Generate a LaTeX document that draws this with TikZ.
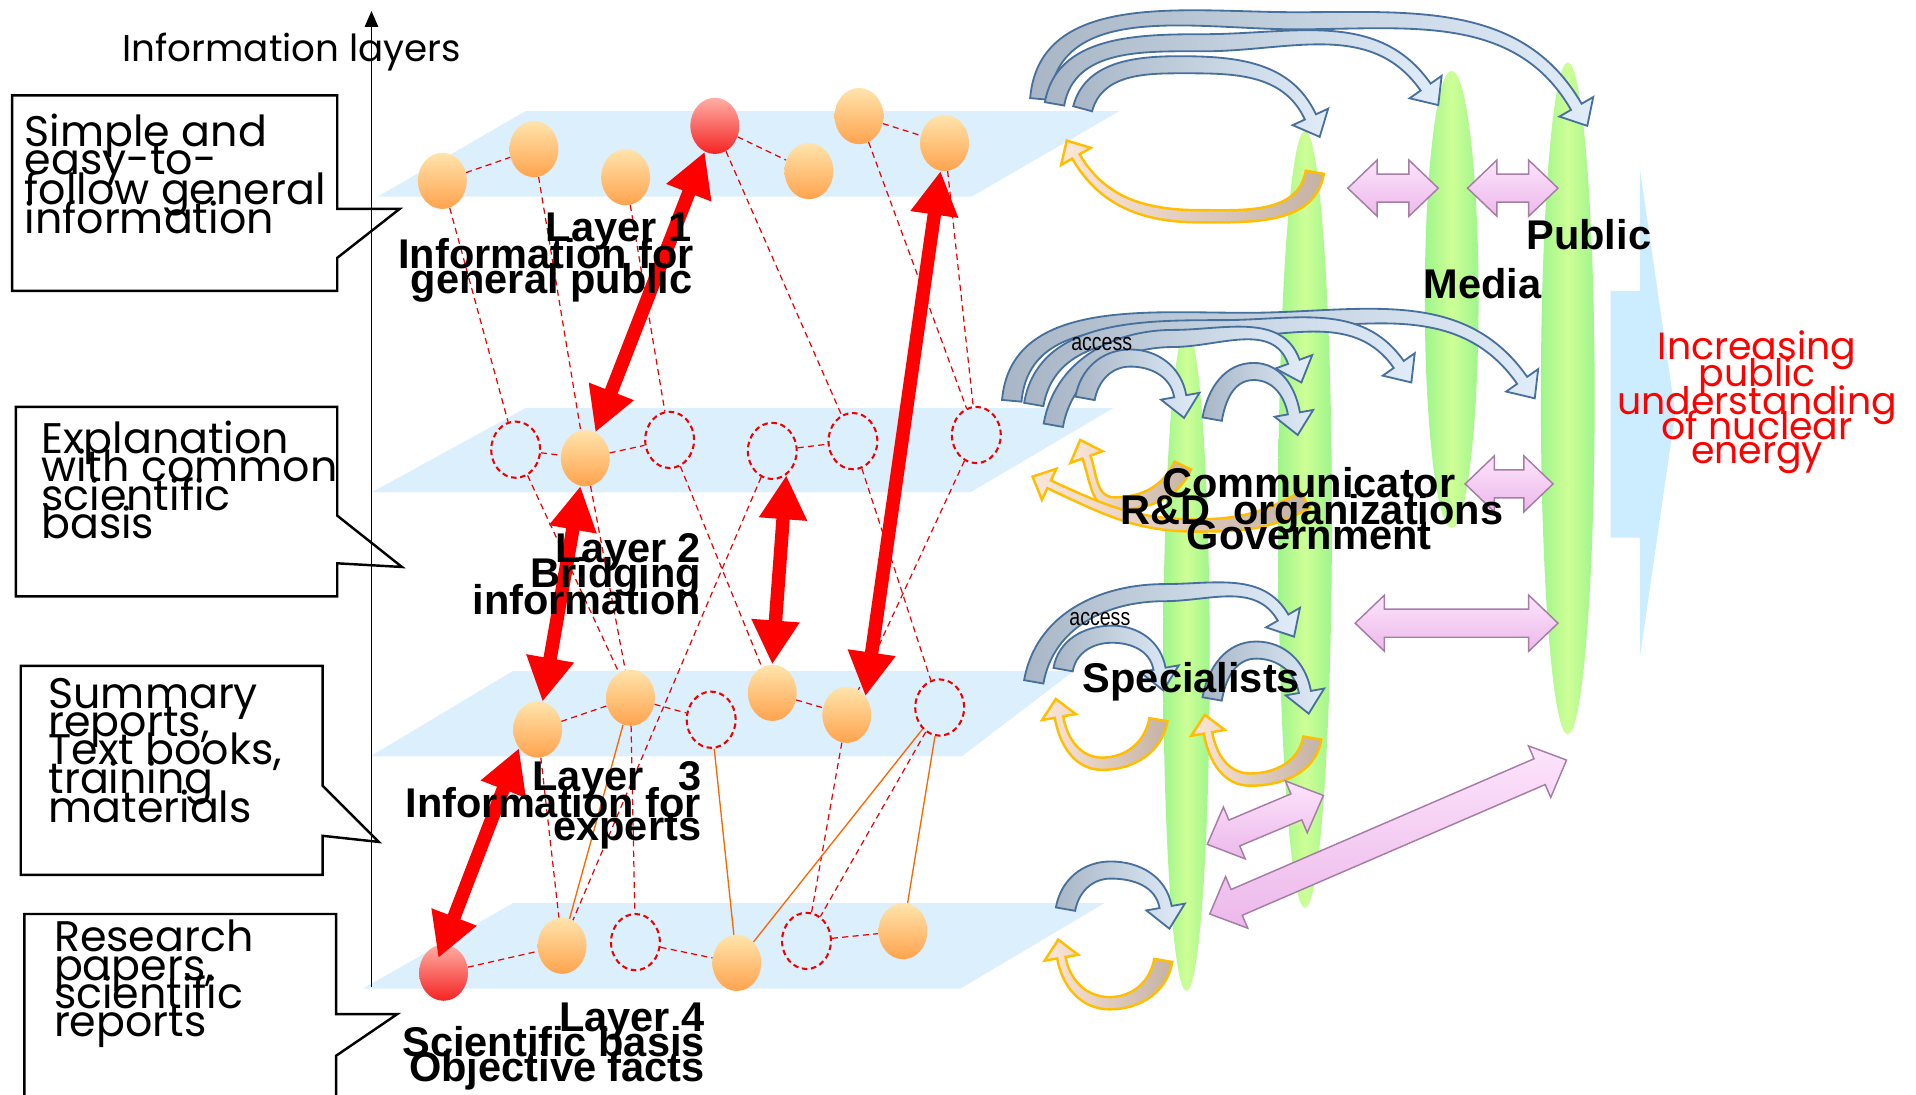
\documentclass[tikz,border=0pt]{standalone}
\usepackage{fontspec}
\setmainfont{Liberation Sans}
\newfontfamily\gothic{Poppins}
\newfontfamily\narrowf[FakeStretch=0.8]{Liberation Sans}
\usetikzlibrary{arrows.meta,shapes.geometric,calc}
\pgfdeclarelayer{bg}
\pgfsetlayers{bg,main}

\definecolor{planeC}{RGB}{220,239,253}
\definecolor{sphTop}{RGB}{255,228,172}
\definecolor{sphBot}{RGB}{255,163,77}
\definecolor{redTop}{RGB}{255,175,165}
\definecolor{redBot}{RGB}{245,35,35}
\definecolor{dashRed}{RGB}{240,0,0}
\definecolor{solidOr}{RGB}{255,102,0}
\definecolor{arrowRed}{RGB}{255,0,0}
\definecolor{gEdge}{RGB}{158,245,140}
\definecolor{gMid}{RGB}{206,255,150}
\definecolor{blueLine}{RGB}{72,112,156}
\definecolor{blueTail}{RGB}{168,182,198}
\definecolor{blueHead}{RGB}{224,236,248}
\definecolor{orLine}{RGB}{255,190,0}
\definecolor{orTail}{RGB}{196,178,165}
\definecolor{orHead}{RGB}{252,230,216}
\definecolor{pinkTop}{RGB}{253,228,252}
\definecolor{pinkBot}{RGB}{236,184,234}
\definecolor{pinkLine}{RGB}{165,125,165}
\definecolor{bigBlue}{RGB}{204,237,255}
\definecolor{redText}{RGB}{255,0,0}

\tikzset{
  plane/.style={fill=planeC},
  sph/.style={ellipse, minimum width=40pt, minimum height=46pt, inner sep=0pt, top color=sphTop, bottom color=sphBot},
  rsph/.style={ellipse, minimum width=40pt, minimum height=46pt, inner sep=0pt, top color=redTop, bottom color=redBot},
  dcirc/.style={ellipse, minimum width=40pt, minimum height=46pt, inner sep=0pt, draw=dashRed, line width=1.7pt, dash pattern=on 4.5pt off 3pt},
  dline/.style={draw=dashRed, line width=1pt, dash pattern=on 5pt off 3.5pt},
  oline/.style={draw=solidOr, line width=1.1pt},
  bigred/.style={draw=arrowRed, line width=11pt, {Triangle[length=36pt,width=37pt]}-{Triangle[length=36pt,width=37pt]}},
  callout/.style={draw=black, line width=2pt, fill=white, line join=miter},
  ctext/.style={anchor=base west, inner sep=0pt, font=\gothic\fontsize{35}{35}\selectfont},
  lbl/.style={anchor=base east, inner sep=0pt, font=\bfseries\fontsize{34}{34}\selectfont},
  rlbl/.style={anchor=base west, inner sep=0pt, font=\bfseries\fontsize{34}{34}\selectfont},
  redtxt/.style={anchor=base, inner sep=0pt, text=redText, font=\gothic\fontsize{31}{31}\selectfont},
  acc/.style={anchor=base west, inner sep=0pt, font=\narrowf\fontsize{20}{20}\selectfont},
  barc/.style={draw=blueLine, line width=1.5pt, left color=blueTail, right color=blueHead, line join=miter},
  oarc/.style={draw=orLine, line width=2pt, left color=orHead, right color=orTail, line join=miter},
  pinkarr/.style={draw=pinkLine, line width=1.2pt, top color=pinkTop, bottom color=pinkBot, line join=miter},
  greenell/.style={left color=gEdge, right color=gEdge, middle color=gMid},
}

% tapered curved arrow: #1 style, #2 tail, #3 tail direction, #4 apex, #5 direction at apex, #6 in-angle at head, #7 head tip
\newcommand\taparrow[7]{%
  \pgfmathsetmacro\aO{#3+90}\pgfmathsetmacro\aI{#3-90}%
  \pgfmathsetmacro\cO{#5+90}\pgfmathsetmacro\cI{#5-90}\pgfmathsetmacro\cR{#5+180}%
  \pgfmathsetmacro\bO{#6-90}\pgfmathsetmacro\bI{#6+90}%
  \coordinate (tT) at (#2);
  \coordinate (tM) at (#4);
  \coordinate (tH) at (#7);
  \coordinate (tB) at ($(tH)+(#6:\hL)$);
  \path[#1] ($(tT)+(\aO:\wA)$) to[out=#3,in=\cR] ($(tM)+(\cO:\wB)$) to[out=#5,in=#6] ($(tB)+(\bO:\wC)$)
     -- ($(tB)+(\bO:\hW)$) -- (tH) -- ($(tB)+(\bI:\hW)$) -- ($(tB)+(\bI:\wC)$)
     to[out=#6,in=#5] ($(tM)+(\cI:\wB)$) to[out=\cR,in=#3] ($(tT)+(\aI:\wA)$) -- cycle;
}
\newcommand\pinkarrow[2]{%
  \coordinate (pa) at (#1);
  \coordinate (pb) at (#2);
  \coordinate (qa) at ($(pa)!24pt!(pb)$);
  \coordinate (qb) at ($(pb)!24pt!(pa)$);
  \path[pinkarr] (pa) -- ($(qa)!23pt!90:(pb)$) -- ($(qa)!11.5pt!90:(pb)$) -- ($(qb)!11.5pt!-90:(pa)$) -- ($(qb)!23pt!-90:(pa)$) -- (pb) -- ($(qb)!23pt!90:(pa)$) -- ($(qb)!11.5pt!90:(pa)$) -- ($(qa)!11.5pt!-90:(pb)$) -- ($(qa)!23pt!-90:(pb)$) -- cycle;
}

\begin{document}
\begin{tikzpicture}[x=1pt,y=-1pt]
\useasboundingbox (0,0) rectangle (1568,896);
% ---- nodes
\node[sph] (L1a) at (362,148) {};
\node[sph] (L1b) at (437,122) {};
\node[sph] (L1c) at (512,145) {};
\node[rsph] (L1d) at (585,103) {};
\node[sph] (L1e) at (662,140) {};
\node[sph] (L1f) at (703,95) {};
\node[sph] (L1g) at (773,117) {};
\node[dcirc] (L2a) at (422,368) {};
\node[sph] (L2b) at (479,375) {};
\node[dcirc] (L2c) at (548,360) {};
\node[dcirc] (L2d) at (632,369) {};
\node[dcirc] (L2e) at (698,361) {};
\node[dcirc] (L2f) at (799,356) {};
\node[sph] (L3a) at (440,597) {};
\node[sph] (L3b) at (516,571) {};
\node[dcirc] (L3c) at (582,589) {};
\node[sph] (L3d) at (632,567) {};
\node[sph] (L3e) at (693,585) {};
\node[dcirc] (L3f) at (769,579) {};
\node[rsph] (L4a) at (363,796) {};
\node[sph] (L4b) at (460,774) {};
\node[dcirc] (L4c) at (520,771) {};
\node[sph] (L4d) at (603,788) {};
\node[dcirc] (L4e) at (660,770) {};
\node[sph] (L4f) at (739,762) {};

\begin{pgfonlayer}{bg}
\fill[plane] (309,161) -- (430,91) -- (916,91) -- (795,161) -- cycle;
\fill[plane] (304,403) -- (430,334) -- (911,334) -- (794,403) -- cycle;
\fill[plane] (303,619) -- (420,549) -- (879,549) -- (787,619) -- cycle;
\fill[plane] (297,809) -- (420,739) -- (904,739) -- (786,809) -- cycle;
\fill[bigBlue] (1318,238) -- (1342,238) -- (1342,138) -- (1371,338) -- (1342,538) -- (1342,440) -- (1318,440) -- cycle;
\path[greenell] (971,540) ellipse [x radius=19pt, y radius=271pt];
\path[greenell] (1068,425) ellipse [x radius=22pt, y radius=318pt];
\path[greenell] (1188,245) ellipse [x radius=22pt, y radius=187pt];
\path[greenell] (1283,326) ellipse [x radius=22pt, y radius=275pt];
% layer links
\draw[dline] (L1a) -- (L1b);
\draw[dline] (L1d) -- (L1e);
\draw[dline] (L1f) -- (L1g);
\draw[dline] (L1a) -- (L2a);
\draw[dline] (L1b) -- (L2b);
\draw[dline] (L1c) -- (L2c);
\draw[dline] (L1d) -- (L2e);
\draw[dline] (L1f) -- (L2f);
\draw[dline] (L1g) -- (L2f);
\draw[dline] (L2a) -- (L2b);
\draw[dline] (L2b) -- (L2c);
\draw[dline] (L2d) -- (L2e);
\draw[dline] (L2a) -- (L3b);
\draw[dline] (L2b) -- (L3b);
\draw[dline] (L2c) -- (L3d);
\draw[dline] (L2d) -- (L4b);
\draw[dline] (L2e) -- (L3f);
\draw[dline] (L2f) -- (L3e);
\draw[dline] (L3a) -- (L3b);
\draw[dline] (L3b) -- (L3c);
\draw[dline] (L3d) -- (L3e);
\draw[dline] (L3a) -- (L4b);
\draw[dline] (L3b) -- (L4c);
\draw[dline] (L3e) -- (L4e);
\draw[dline] (L3f) -- (L4e);
\draw[oline] (L3b) -- (L4b);
\draw[oline] (L3c) -- (L4d);
\draw[oline] (L3f) -- (L4d);
\draw[oline] (L3f) -- (L4f);
\draw[dline] (L4a) -- (L4b);
\draw[dline] (L4c) -- (L4d);
\draw[dline] (L4e) -- (L4f);
\end{pgfonlayer}

% ---- big red arrows
\draw[bigred] (L1d) -- (L2b);
\draw[bigred] (L2b) -- (L3a);
\draw[bigred] (L2d.-60) -- (L3d.north);
\draw[bigred] (L1g) -- (L3e.45);
\draw[bigred, shorten >=-12pt] (L3a.-135) -- (L4a.north);

% ---- curved blue arrows
\def\wA{8pt}\def\wB{7pt}\def\wC{5pt}\def\hL{18pt}\def\hW{16pt}
\taparrow{barc}{851,81}{85}{1060,17}{0}{120}{1299,103}
\taparrow{barc}{863,85}{80}{985,35}{0}{125}{1177,86}
\taparrow{barc}{886,89}{75}{965,53}{0}{115}{1080,112}
\taparrow{barc}{828,328}{85}{1020,263}{0}{125}{1256,326}
\taparrow{barc}{846,331}{80}{1000,269}{0}{125}{1155,313}
\taparrow{barc}{862,348}{80}{960,277}{0}{110}{1065,313}
\taparrow{barc}{888,326}{80}{925,293}{0}{100}{969,342}
\taparrow{barc}{992,343}{80}{1026,304}{0}{100}{1062,356}
\taparrow{barc}{846,558}{80}{953,485}{0}{120}{1059,521}
\taparrow{barc}{870,548}{80}{910,519}{0}{100}{952,565}
\taparrow{barc}{992,572}{80}{1028,532}{0}{100}{1071,584}
\taparrow{barc}{872,744}{80}{909,712}{0}{100}{957,760}

% ---- curved orange arrows
\def\wA{7.5pt}\def\wB{5pt}\def\wC{3.5pt}\def\hL{15pt}\def\hW{14pt}
\taparrow{oarc}{1076,141}{-100}{982,177}{180}{-60}{873,115}
\taparrow{oarc}{968,381}{-115}{912,412}{180}{-70}{884,360}
\taparrow{oarc}{1068,409}{-150}{978,430}{180}{-25}{845,390}
\taparrow{oarc}{948,589}{-100}{902,625}{180}{-80}{864,572}
\taparrow{oarc}{1074,604}{-100}{1023,638}{180}{-80}{986,585}
\taparrow{oarc}{952,786}{-100}{908,821}{180}{-80}{866,769}

% ---- pink double arrows
\pinkarrow{1103,154}{1177,154}
\pinkarrow{1201,154}{1275,154}
\pinkarrow{1199,396}{1271,396}
\pinkarrow{1109,510}{1275,510}
\pinkarrow{988,691}{1083,651}
\pinkarrow{990,748}{1282,622}

% ---- layer labels
\node[lbl] (t1a) at (566,198) {Layer 1};
\node[lbl] (t1b) at (568,220) {Information for};
\node[lbl] (t1c) at (567,240) {general public};
\node[lbl] (t2a) at (574,460) {Layer 2};
\node[lbl] (t2b) at (574,481) {Bridging};
\node[lbl] (t2c) at (574,503) {information};
\node[lbl] (t3a) at (574,647) {Layer~~~3};
\node[lbl] (t3b) at (574,669) {Information for};
\node[lbl] (t3c) at (574,688) {experts};
\node[lbl] (t4a) at (577,844) {Layer 4};
\node[lbl] (t4b) at (577,865) {Scientific basis};
\node[lbl] (t4c) at (577,885) {Objective facts};

% ---- right labels
\node[rlbl] (pub) at (1249,204.5) {Public};
\node[rlbl] (med) at (1165,244) {Media};
\node[rlbl] (com) at (951,407.5) {Communicator};
\node[rlbl] (rnd) at (916.5,429) {R\&D~~organizations};
\node[rlbl] (gov) at (971,450) {Government};
\node[rlbl] (spe) at (886,566.5) {Specialists};
\node[acc] (acc1) at (876.5,287) {access};
\node[acc] (acc2) at (875,512) {access};

\node[redtxt] (r1) at (1438,294.4) {Increasing};
\node[redtxt] (r2) at (1438,316) {public};
\node[redtxt] (r3) at (1438,339) {understanding};
\node[redtxt] (r4) at (1438,360) {of nuclear};
\node[redtxt] (r5) at (1438,379) {energy};

% ---- callouts
\draw[callout] (10,78) -- (276,78) -- (276,171) -- (327,171) -- (276,211) -- (276,238) -- (10,238) -- cycle;
\draw[callout] (13,333) -- (276,333) -- (276,422) -- (329,464) -- (276,461) -- (276,488) -- (13,488) -- cycle;
\draw[callout] (17,545) -- (264,545) -- (264,643) -- (310,689) -- (264,684) -- (264,716) -- (17,716) -- cycle;
\draw[callout] (20,748) -- (275,748) -- (275,830) -- (325,830) -- (275,864) -- (275,905) -- (20,905) -- cycle;

\node[ctext] (c1a) at (20,120) {Simple and};
\node[ctext] (c1b) at (20,143) {easy-to-};
\node[ctext] (c1c) at (20,167) {follow general};
\node[ctext] (c1d) at (20,191) {information};
\node[ctext] (c2a) at (33.6,371) {Explanation};
\node[ctext] (c2b) at (33.6,394) {with common};
\node[ctext] (c2c) at (33.6,417.5) {scientific};
\node[ctext] (c2d) at (33.6,440.7) {basis};
\node[ctext] (c3a) at (39.5,579.6) {Summary};
\node[ctext] (c3b) at (39.5,603) {reports,};
\node[ctext] (c3c) at (39.5,626) {Text books,};
\node[ctext] (c3d) at (39.5,649) {training};
\node[ctext] (c3e) at (39.5,672.7) {materials};
\node[ctext] (c4a) at (44,778.5) {Research};
\node[ctext] (c4b) at (44,802) {papers,};
\node[ctext] (c4c) at (44,825) {scientific};
\node[ctext] (c4d) at (44,848) {reports};

% ---- axis
\coordinate (axb) at (304,808);
\coordinate (axt) at (304,9);
\draw[line width=1pt, -{Triangle[length=13pt,width=11pt]}] (axb) -- (axt);
\node[anchor=base west, inner sep=0pt, font=\gothic\fontsize{30.5}{30.5}\selectfont] (axl) at (100,50) {Information layers};
\end{tikzpicture}
\end{document}
